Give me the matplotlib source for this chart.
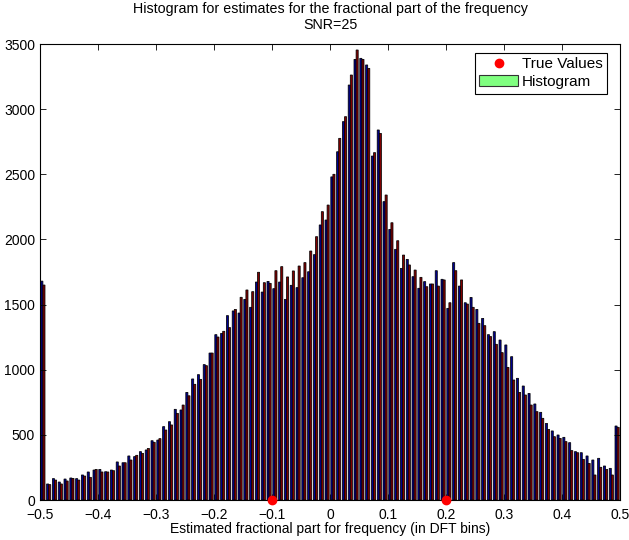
import matplotlib
matplotlib.use('Agg')
import matplotlib.pyplot as plt
import numpy as np
from matplotlib.lines import Line2D
from matplotlib.patches import Patch

plt.rcParams['font.family'] = ['Liberation Sans', 'DejaVu Sans']
plt.rcParams['font.size'] = 10

# bin centres: 100 bins of width 0.01 between -0.5 and 0.5
centers = np.arange(100) * 0.01 - 0.495

counts_a = [1680, 123, 164, 138, 161, 169, 164, 192, 215, 230,
            235, 217, 230, 292, 286, 338, 333, 371, 384, 455,
            460, 563, 601, 696, 691, 826, 929, 962, 1039, 1128,
            1269, 1279, 1415, 1451, 1435, 1540, 1479, 1673, 1596, 1678,
            1622, 1673, 1540, 1648, 1630, 1706, 1752, 1883, 2111, 2149,
            2480, 2673, 2904, 3185, 3382, 3390, 3339, 2640, 2840, 2290,
            2077, 1924, 1778, 1847, 1714, 1625, 1676, 1658, 1760, 1694,
            1471, 1822, 1642, 1514, 1555, 1463, 1394, 1269, 1292, 1228,
            1190, 1100, 934, 875, 818, 737, 673, 588, 530, 499,
            481, 440, 371, 363, 338, 307, 320, 261, 243, 568]

counts_b = [1650, 118, 153, 123, 146, 166, 153, 184, 174, 235,
            215, 215, 225, 261, 286, 307, 343, 358, 396, 443,
            471, 537, 576, 665, 729, 800, 888, 926, 1031, 1128,
            1251, 1295, 1323, 1463, 1556, 1612, 1599, 1748, 1668, 1663,
            1760, 1791, 1712, 1758, 1796, 1822, 1911, 2021, 2213, 2264,
            2500, 2776, 2942, 3262, 3454, 3382, 3313, 2666, 2814, 2341,
            2128, 1990, 1880, 1804, 1765, 1709, 1637, 1658, 1642, 1689,
            1514, 1760, 1689, 1504, 1479, 1356, 1338, 1254, 1195, 1131,
            1018, 921, 826, 806, 729, 678, 627, 542, 486, 473,
            448, 379, 363, 312, 281, 192, 251, 235, 192, 558]

true_values = [-0.1, 0.2]

fig = plt.figure(figsize=(6.29, 5.4), dpi=100)
ax = fig.add_axes([40 / 629, 40 / 540, 580 / 629, 456 / 540])

w = 0.0036
ax.bar(centers - w / 2, counts_a, width=w, color='#000090',
       edgecolor='black', linewidth=0.55, snap=False)
ax.bar(centers + w / 2, counts_b, width=w, color='#800000',
       edgecolor='black', linewidth=0.55, snap=False)
ax.plot(true_values, [0, 0], 'o', color='red', markersize=6,
        clip_on=False, zorder=5)

ax.set_xlim(-0.5, 0.5)
ax.set_ylim(0, 3500)
ax.set_xticks(np.arange(-5, 6) / 10)
ax.set_xticklabels(['\u22120.5', '\u22120.4', '\u22120.3', '\u22120.2', '\u22120.1',
                    '0', '0.1', '0.2', '0.3', '0.4', '0.5'])
ax.set_yticks(np.arange(0, 3501, 500))
ax.tick_params(direction='in', top=True, right=True, length=4, width=0.6)
ax.tick_params(axis='x', pad=6)
for s in ax.spines.values():
    s.set_linewidth(0.8)

ax.set_title('Histogram for estimates for the fractional part of the frequency\nSNR=25',
             fontsize=10.3, pad=11, linespacing=1.15)
ax.set_xlabel('Estimated fractional part for frequency (in DFT bins)', labelpad=0)

handles = [Line2D([], [], marker='o', color='red', linestyle='none', markersize=6),
           Patch(facecolor='#80ff80', edgecolor='#333333', linewidth=0.8)]
leg = ax.legend(handles, ['True Values', 'Histogram'], loc='upper right',
                bbox_to_anchor=(0.978, 0.981), borderaxespad=0, fancybox=False,
                framealpha=1, edgecolor='black', handlelength=2.55,
                handletextpad=0.25, borderpad=0.3, labelspacing=0.25,
                fontsize=11)
leg.get_frame().set_linewidth(0.8)

fig.savefig('out.png', dpi=100)
